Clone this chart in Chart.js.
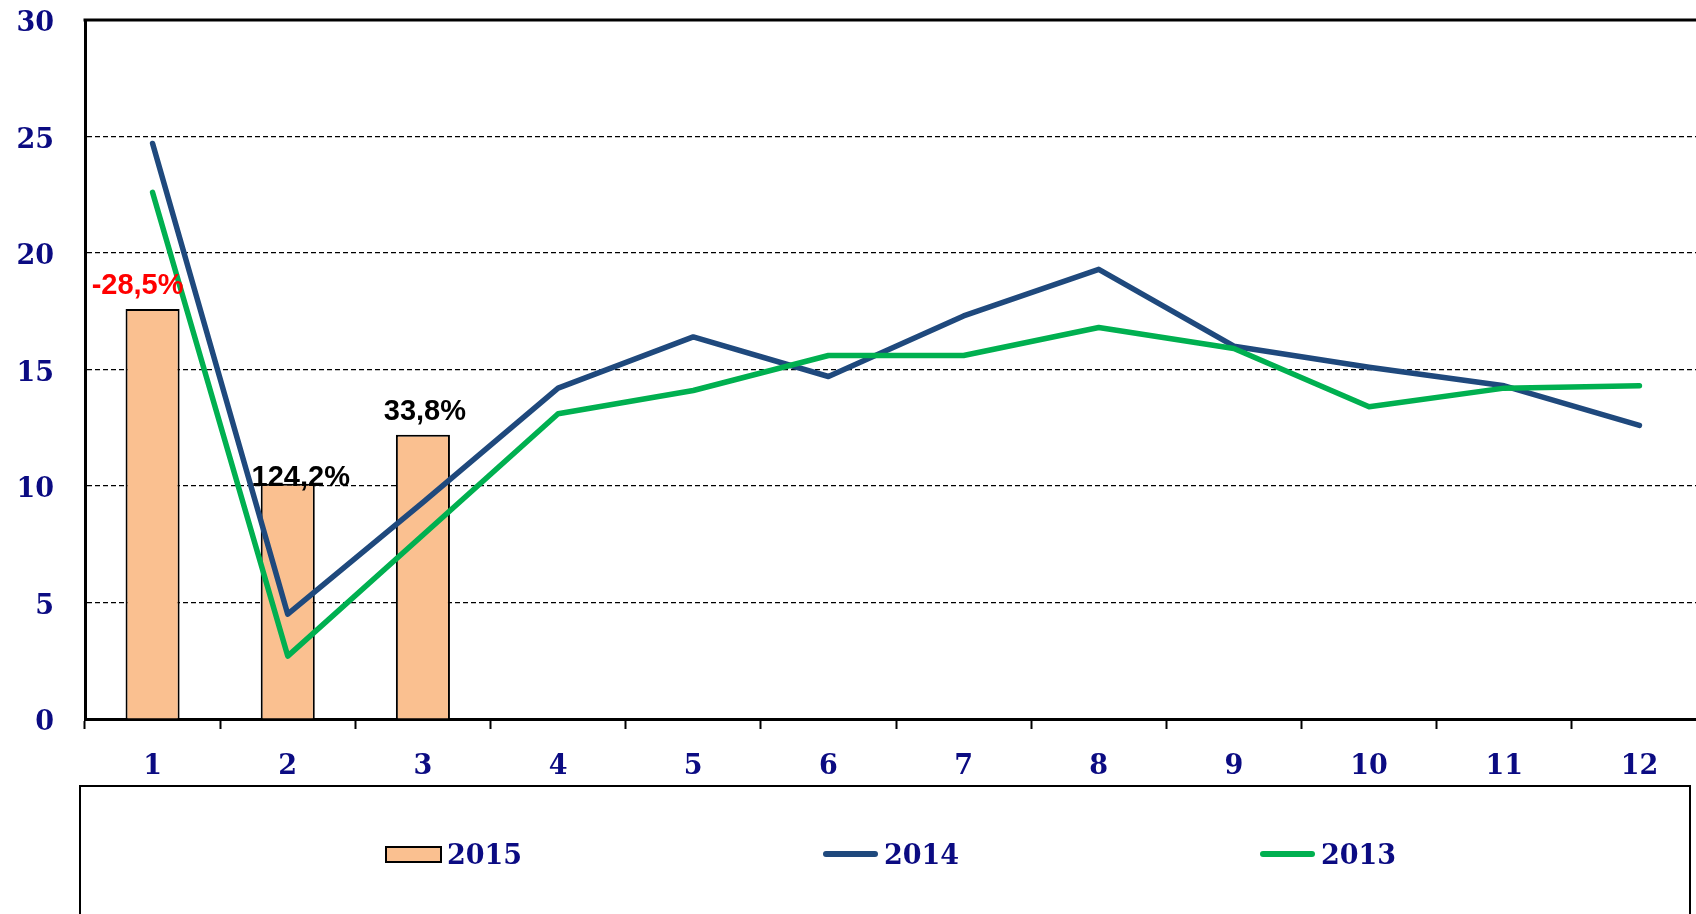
<!DOCTYPE html>
<html><head><meta charset="utf-8">
<script src="https://cdn.jsdelivr.net/npm/chart.js@4.4.1/dist/chart.umd.min.js"></script>
<style>
html,body{margin:0;padding:0;background:#fff;overflow:hidden;width:1696px;height:914px;}
#wrap{position:relative;width:1707px;height:914px;}
canvas{display:block;}
</style></head><body>
<div id="wrap"><canvas id="c" width="1707" height="914"></canvas></div>
<script>
// ---- data ----
const months = ['1','2','3','4','5','6','7','8','9','10','11','12'];
const seriesNames = ['2015','2014','2013'];
const values2015 = [17.6, 10.1, 12.2, null, null, null, null, null, null, null, null, null];
const values2014 = [24.7, 4.5, 9.3, 14.2, 16.4, 14.7, 17.3, 19.3, 16.0, 15.1, 14.3, 12.6];
const values2013 = [22.6, 2.7, 7.9, 13.1, 14.1, 15.6, 15.6, 16.8, 15.9, 13.4, 14.2, 14.3];
const barLabels2015 = ['-28,5%', '124,2%', '33,8%'];
const barLabelColors = ['#ff0000', '#000000', '#000000'];
const yMin = 0, yMax = 30, yStep = 5;

// ---- styles ----
const NAVY = '#0b0b82';
const TICK_FONT = {family: 'DejaVu Serif', weight: 'bold', size: 27};
const colors = {bar: '#FAC090', blue: '#1F497D', green: '#00B050'};

const topBorder = {
  id: 'topBorder',
  afterDatasetsDraw(chart) {
    const {ctx, chartArea} = chart;
    ctx.save();
    ctx.strokeStyle = '#000';
    ctx.lineWidth = 3;
    ctx.beginPath();
    ctx.moveTo(chartArea.left - 1.5, chartArea.top);
    ctx.lineTo(chartArea.right + 5, chartArea.top);
    ctx.stroke();
    ctx.restore();
  }
};

const barLabelsPlugin = {
  id: 'barLabels',
  afterDatasetsDraw(chart, args, opts) {
    const {ctx} = chart;
    const meta = chart.getDatasetMeta(0);
    ctx.save();
    ctx.font = 'bold 29px "Liberation Sans", Arial, sans-serif';
    ctx.textAlign = 'center';
    ctx.textBaseline = 'alphabetic';
    barLabels2015.forEach((txt, i) => {
      const el = meta.data[i];
      if (!el) return;
      const off = opts.offsets[i] || [0, -8];
      ctx.fillStyle = barLabelColors[i];
      ctx.fillText(txt, el.x + off[0], el.y + off[1]);
    });
    ctx.restore();
  }
};

const boxLegend = {
  id: 'boxLegend',
  afterDraw(chart, args, opts) {
    const {ctx} = chart;
    ctx.save();
    ctx.strokeStyle = '#000';
    ctx.lineWidth = 2;
    ctx.strokeRect(opts.box[0], opts.box[1], opts.box[2], opts.box[3]);
    ctx.font = 'bold 27px "DejaVu Serif", serif';
    ctx.textBaseline = 'middle';
    ctx.textAlign = 'left';
    chart.data.datasets.forEach((ds, i) => {
      const x = opts.startX + i * opts.spacing;
      const y = opts.y;
      if (ds.type === 'line') {
        ctx.strokeStyle = ds.borderColor;
        ctx.lineWidth = 6;
        ctx.lineCap = 'round';
        ctx.beginPath();
        ctx.moveTo(x + 3, y);
        ctx.lineTo(x + opts.swatchW - 3, y);
        ctx.stroke();
      } else {
        ctx.fillStyle = ds.backgroundColor;
        ctx.fillRect(x, y - 7, opts.swatchW, 15);
        ctx.strokeStyle = '#000';
        ctx.lineWidth = 2;
        ctx.strokeRect(x, y - 7, opts.swatchW, 15);
      }
      ctx.fillStyle = NAVY;
      ctx.fillText(ds.label, x + opts.swatchW + 6, y + 3);
    });
    ctx.restore();
  }
};

new Chart(document.getElementById('c'), {
  type: 'bar',
  data: {
    labels: months,
    datasets: [
      {type: 'bar', label: seriesNames[0], data: values2015, backgroundColor: colors.bar,
       borderColor: '#000', borderWidth: 2, barPercentage: 0.4, categoryPercentage: 1.0, order: 2},
      {type: 'line', label: seriesNames[1], data: values2014, borderColor: colors.blue, backgroundColor: colors.blue,
       borderWidth: 5.5, pointRadius: 0, tension: 0, borderCapStyle: 'round', borderJoinStyle: 'round', order: 1},
      {type: 'line', label: seriesNames[2], data: values2013, borderColor: colors.green, backgroundColor: colors.green,
       borderWidth: 5.5, pointRadius: 0, tension: 0, borderCapStyle: 'round', borderJoinStyle: 'round', order: 0}
    ]
  },
  options: {
    responsive: false,
    animation: false,
    devicePixelRatio: 1,
    layout: {padding: {top: 0, bottom: 135, left: 0, right: 0}},
    plugins: {
      legend: {display: false},
      tooltip: {enabled: false},
      barLabels: {offsets: [[-15, -15], [13, 2], [2, -15]]},
      boxLegend: {box: [80, 786, 1610, 200], startX: 386, spacing: 437, y: 854, swatchW: 55}
    },
    scales: {
      x: {
        offset: true,
        grid: {display: true, drawOnChartArea: false, drawTicks: true, tickLength: 10, tickWidth: 2, tickColor: '#000', offset: true},
        border: {display: true, color: '#000', width: 3},
        ticks: {color: NAVY, font: TICK_FONT, padding: 22, maxRotation: 0, autoSkip: false},
        afterFit(s) { s.height = 60; }
      },
      y: {
        min: yMin, max: yMax,
        ticks: {stepSize: yStep, color: NAVY, font: TICK_FONT, padding: 31, labelOffset: 4},
        grid: {
          drawTicks: false, lineWidth: 1.2,
          color: (c) => (c.tick && (c.tick.value === yMin || c.tick.value === yMax)) ? 'rgba(0,0,0,0)' : '#000'
        },
        border: {display: true, color: '#000', width: 3, dash: [5, 3]},
        afterFit(s) { s.width = 85; s.paddingTop = 20; s.paddingBottom = 16; }
      }
    }
  },
  plugins: [topBorder, barLabelsPlugin, boxLegend]
});
</script>
</body></html>
